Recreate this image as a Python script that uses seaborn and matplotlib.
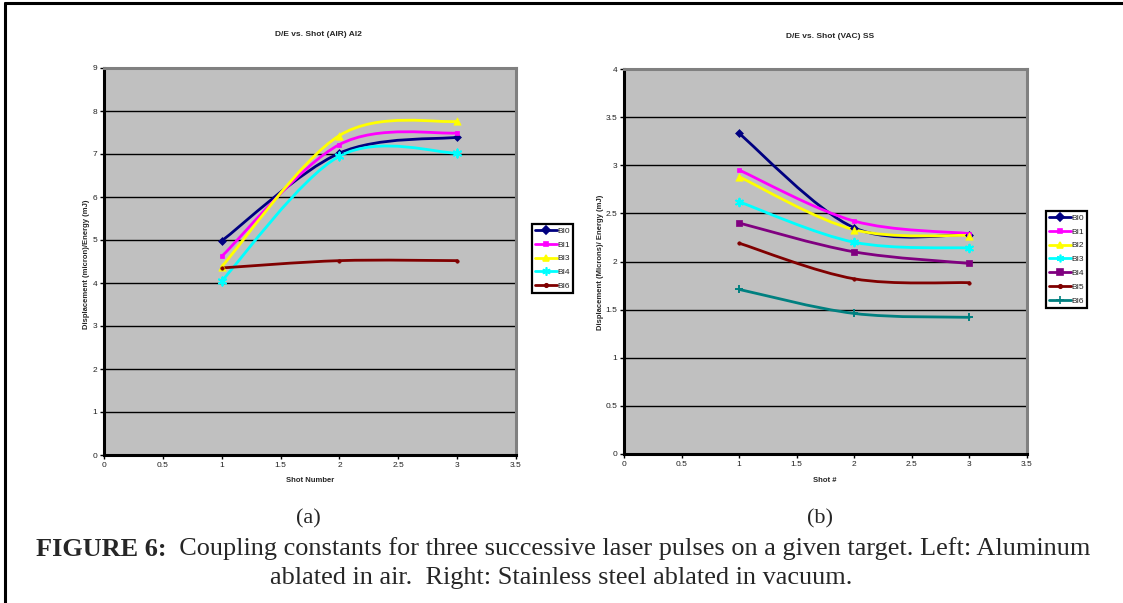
import numpy as np
import pandas as pd
import matplotlib
matplotlib.use("Agg")
import matplotlib.pyplot as plt
import seaborn as sns
from matplotlib.path import Path
from matplotlib.patches import PathPatch
from matplotlib.lines import Line2D
from matplotlib.ticker import FormatStrFormatter

# ---------------- data ----------------
shots = [1, 2, 3]

air_series = ["BI0", "BI1", "BI3", "BI4", "BI6"]
air_BI0 = [4.98, 7.02, 7.39]
air_BI1 = [4.62, 7.22, 7.49]
air_BI3 = [4.38, 7.43, 7.76]
air_BI4 = [4.05, 6.95, 7.02]
air_BI6 = [4.35, 4.52, 4.52]
air_values = [air_BI0, air_BI1, air_BI3, air_BI4, air_BI6]

vac_series = ["BI0", "BI1", "BI2", "BI3", "BI4", "BI5", "BI6"]
vac_BI0 = [3.33, 2.35, 2.28]
vac_BI1 = [2.95, 2.42, 2.29]
vac_BI2 = [2.88, 2.33, 2.27]
vac_BI3 = [2.62, 2.20, 2.14]
vac_BI4 = [2.40, 2.10, 1.98]
vac_BI5 = [2.19, 1.82, 1.78]
vac_BI6 = [1.71, 1.46, 1.42]
vac_values = [vac_BI0, vac_BI1, vac_BI2, vac_BI3, vac_BI4, vac_BI5, vac_BI6]

air_title = "D/E vs. Shot (AIR) Al2"
vac_title = "D/E vs. Shot (VAC) SS"
air_xlabel = "Shot Number"
vac_xlabel = "Shot #"
air_ylabel = "Displacement (micron)/Energy (mJ)"
vac_ylabel = "Displacement (Microns)/ Energy (mJ)"
caption_bold = "FIGURE 6:"
caption_line1 = "  Coupling constants for three successive laser pulses on a given target. Left: Aluminum"
caption_line2 = "ablated in air.  Right: Stainless steel ablated in vacuum."

# ---------------- styles ----------------
air_styles = [
    ("#000080", "D", 16, 4.0),
    ("#FF00FF", "s", 12, 3.5),
    ("#FFFF00", "^", 28, 5.0),
    ("#00FFFF", (6, 2, 0), 34, 6.0),
    ("#800000", "o", 6, 2.5),
]
vac_styles = [
    ("#000080", "D", 16, 4.0),
    ("#FF00FF", "s", 12, 3.5),
    ("#FFFF00", "^", 28, 5.0),
    ("#00FFFF", (6, 2, 0), 30, 5.5),
    ("#800080", "s", 22, 4.5),
    ("#800000", "o", 6, 2.5),
    ("#008080", "+", 30, 5.5),
]

sns.set_style("white")
plt.rcParams["font.family"] = ["Liberation Sans", "DejaVu Sans"]

W, H = 1123, 603
fig = plt.figure(figsize=(W / 100, H / 100), dpi=100)


def rect(x0, x1, y0, y1):
    return [x0 / W, 1 - y1 / H, (x1 - x0) / W, (y1 - y0) / H]


def smooth_path(xs, ys):
    """Excel-style smoothed line (cubic Bezier through the data points)."""
    p = np.column_stack([xs, ys]).astype(float)
    n = len(p)
    verts = [p[0]]
    codes = [Path.MOVETO]
    for i in range(n - 1):
        p0 = p[i - 1] if i > 0 else p[i]
        p3 = p[i + 2] if i + 2 < n else p[i + 1]
        c1 = p[i] + (p[i + 1] - p0) / 6.0
        c2 = p[i + 1] - (p3 - p[i]) / 6.0
        verts += [c1, c2, p[i + 1]]
        codes += [Path.CURVE4] * 3
    return Path(verts, codes)


def draw_panel(ax, names, values, styles, ymax, ystep):
    ax.set_facecolor("#C0C0C0")
    rows = []
    for name, vals in zip(names, values):
        for s, v in zip(shots, vals):
            rows.append({"shot": s, "value": v, "series": name})
    df = pd.DataFrame(rows)
    handles = []
    for name, (c, m, s, ms) in zip(names, styles):
        sub = df[df["series"] == name]
        patch = PathPatch(smooth_path(sub["shot"], sub["value"]), facecolor="none",
                          edgecolor=c, linewidth=2.0, zorder=3, capstyle="round")
        ax.add_patch(patch)
        unfilled = m in ("+",) or isinstance(m, tuple)
        if unfilled:
            sns.scatterplot(data=sub, x="shot", y="value", marker=m, s=s, color=c,
                            linewidth=1.4, ax=ax, legend=False, zorder=4)
        else:
            sns.scatterplot(data=sub, x="shot", y="value", marker=m, s=s, color=c,
                            edgecolor=c, linewidth=0.5, ax=ax, legend=False, zorder=4)
        handles.append(Line2D([], [], color=c, linewidth=2.0, marker=m, markersize=ms,
                              markerfacecolor=c, markeredgecolor=c, markeredgewidth=1.2,
                              label=name))
    ax.set_xlim(0, 3.5)
    ax.set_ylim(0, ymax)
    ax.set_xticks(np.arange(0, 3.51, 0.5))
    ax.set_yticks(np.arange(0, ymax + 1e-9, ystep))
    ax.xaxis.set_major_formatter(FormatStrFormatter("%g"))
    ax.yaxis.set_major_formatter(FormatStrFormatter("%g"))
    ax.yaxis.grid(True, color="black", linewidth=1.0)
    ax.xaxis.grid(False)
    ax.set_axisbelow(True)
    for side in ("left", "bottom"):
        ax.spines[side].set_color("black")
        ax.spines[side].set_linewidth(2.2)
    for side in ("top", "right"):
        ax.spines[side].set_color("#808080")
        ax.spines[side].set_linewidth(2.2)
    ax.tick_params(direction="out", length=3, width=1, color="black",
                   labelsize=6, pad=2, labelcolor="#222222",
                   left=True, bottom=True)
    ax.set_xlabel("")
    ax.set_ylabel("")
    return handles


ax1 = fig.add_axes(rect(104, 516, 68, 455))
ax2 = fig.add_axes(rect(624, 1027, 69, 454))

h1 = draw_panel(ax1, air_series, air_values, air_styles, 9, 1)
h2 = draw_panel(ax2, vac_series, vac_values, vac_styles, 4, 0.5)

# titles & labels
fig.text(318 / W, 1 - 34 / H, air_title, ha="center", va="center", fontsize=6, weight="bold")
fig.text(830 / W, 1 - 36 / H, vac_title, ha="center", va="center", fontsize=6, weight="bold")
fig.text(310 / W, 1 - 481 / H, air_xlabel, ha="center", va="center", fontsize=5.5, weight="bold")
fig.text(825 / W, 1 - 481 / H, vac_xlabel, ha="center", va="center", fontsize=5.5, weight="bold")
fig.text(86 / W, 1 - 264 / H, air_ylabel, ha="center", va="center", rotation=90, fontsize=5.5, weight="bold")
fig.text(600 / W, 1 - 262 / H, vac_ylabel, ha="center", va="center", rotation=90, fontsize=5.5, weight="bold")

# legends
for ax, hs, (lx, ly) in ((ax1, h1, (532, 224)), (ax2, h2, (1046, 211))):
    leg = ax.legend(handles=hs, loc="upper left", bbox_to_anchor=(lx / W, 1 - ly / H),
                    bbox_transform=fig.transFigure, frameon=True, fancybox=False,
                    edgecolor="black", framealpha=1, fontsize=6, borderpad=0.35,
                    labelspacing=0.72, handlelength=2.6, handletextpad=0.15,
                    borderaxespad=0)
    leg.get_frame().set_linewidth(1.6)
    for t in leg.get_texts():
        t.set_color("#222222")

# sub captions
serif = ["Liberation Serif", "DejaVu Serif"]
fig.text(308 / W, 1 - 519 / H, "(a)", ha="center", va="center", fontsize=16, family=serif)
fig.text(820 / W, 1 - 519 / H, "(b)", ha="center", va="center", fontsize=16, family=serif)

# caption line 1 (bold + normal), fitted to width
renderer = fig.canvas.get_renderer()
tb = fig.text(0, 0, caption_bold, fontsize=10, weight="bold", family=serif, va="center")
tn = fig.text(0, 0, caption_line1, fontsize=10, family=serif, va="center")
wtot = tb.get_window_extent(renderer).width + tn.get_window_extent(renderer).width
fs = 10 * 1050 / wtot
tb.set_fontsize(fs)
tn.set_fontsize(fs)
wb = tb.get_window_extent(renderer).width
wn = tn.get_window_extent(renderer).width
x0 = 563 - (wb + wn) / 2
y1 = 1 - 549 / H
tb.set_position((x0 / W, y1))
tn.set_position(((x0 + wb) / W, y1))
fig.text(561 / W, 1 - 578 / H, caption_line2, ha="center", va="center", fontsize=fs, family=serif)

# page box edges (top and left)
fig.add_artist(Line2D([5 / W, 5 / W], [0, 1 - 3 / H], transform=fig.transFigure, color="black", linewidth=2.2))
fig.add_artist(Line2D([5 / W, 1], [1 - 3 / H, 1 - 3 / H], transform=fig.transFigure, color="black", linewidth=2.2))

fig.savefig("out.png", dpi=100, facecolor="white")
